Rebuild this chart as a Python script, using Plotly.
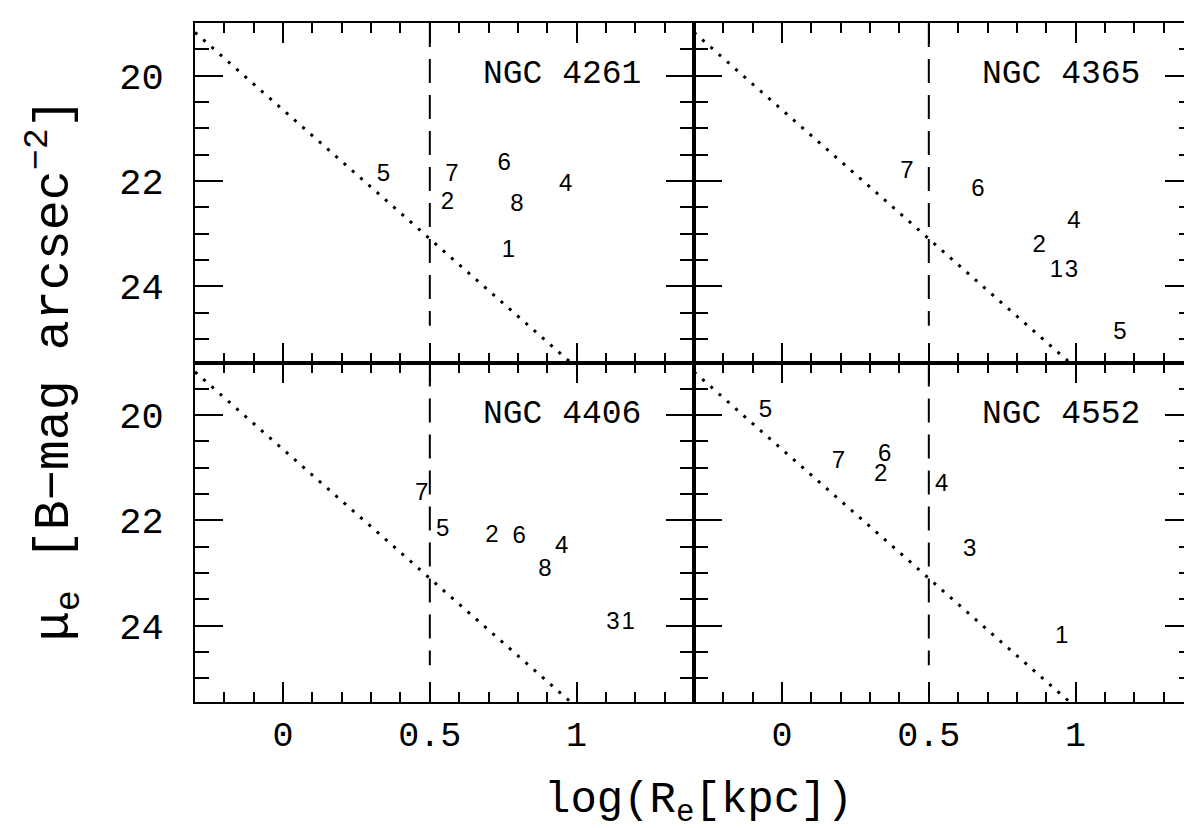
import plotly.graph_objects as go
from plotly.subplots import make_subplots

# ---- data ----
galaxies = ["NGC 4261", "NGC 4365", "NGC 4406", "NGC 4552"]

n4261_lbl = ["5", "7", "6", "4", "2", "8", "1"]
n4261_x = [0.342, 0.575, 0.753, 0.963, 0.560, 0.797, 0.768]
n4261_y = [21.88, 21.88, 21.68, 22.07, 22.42, 22.45, 23.34]

n4365_lbl = ["7", "6", "4", "2", "1", "3", "5"]
n4365_x = [0.425, 0.667, 0.994, 0.876, 0.935, 0.986, 1.151]
n4365_y = [21.83, 22.18, 22.79, 23.23, 23.71, 23.72, 24.88]

n4406_lbl = ["7", "5", "2", "6", "4", "8", "3", "1"]
n4406_x = [0.472, 0.544, 0.712, 0.804, 0.949, 0.892, 1.124, 1.176]
n4406_y = [21.50, 22.18, 22.30, 22.31, 22.51, 22.95, 23.95, 23.95]

n4552_lbl = ["5", "7", "6", "2", "4", "3", "1"]
n4552_x = [-0.057, 0.192, 0.350, 0.336, 0.544, 0.639, 0.953]
n4552_y = [19.92, 20.89, 20.76, 21.13, 21.33, 22.57, 24.21]

# reference lines
limit_x = [-0.3, 1.0]          # dotted diagonal
limit_y = [19.18, 25.55]
cut_x = [0.5, 0.5]             # dashed vertical
cut_y = [19.0, 24.75]

x_range = [-0.3, 1.4]
y_range = [25.45, 19.0]

panels = [
    (n4261_lbl, n4261_x, n4261_y, 1, 1),
    (n4365_lbl, n4365_x, n4365_y, 1, 2),
    (n4406_lbl, n4406_x, n4406_y, 2, 1),
    (n4552_lbl, n4552_x, n4552_y, 2, 2),
]

fig = make_subplots(rows=2, cols=2, horizontal_spacing=0, vertical_spacing=0)

SERIF = "Liberation Mono"

for i, (lbl, xs, ys, r, c) in enumerate(panels):
    fig.add_trace(go.Scatter(x=limit_x, y=limit_y, mode="lines",
                             line=dict(color="black", width=3, dash="3px,8px"),
                             showlegend=False, hoverinfo="skip"), row=r, col=c)
    fig.add_trace(go.Scatter(x=cut_x, y=cut_y, mode="lines",
                             line=dict(color="black", width=2, dash="24px,12px"),
                             showlegend=False, hoverinfo="skip"), row=r, col=c)
    fig.add_trace(go.Scatter(x=xs, y=ys, mode="text", text=lbl,
                             textposition="middle center",
                             textfont=dict(family="Liberation Sans", size=24, color="black"),
                             showlegend=False), row=r, col=c)
    idx = "" if i == 0 else str(i + 1)
    fig.add_annotation(x=0.95, y=19.98, xref="x" + idx, yref="y" + idx,
                       text=galaxies[i], showarrow=False,
                       xanchor="center", yanchor="middle",
                       font=dict(family=SERIF, size=33, color="black"))

    fig.update_xaxes(range=x_range, tick0=0, dtick=0.5, ticks="inside",
                     ticklen=20, tickwidth=2, tickcolor="black",
                     minor=dict(dtick=0.1, tick0=0, ticks="inside", ticklen=10,
                                tickwidth=2, tickcolor="black", showgrid=False),
                     mirror="ticks", showline=True, linewidth=2, linecolor="black",
                     showgrid=False, zeroline=False,
                     showticklabels=(r == 2), ticklabelstandoff=0,
                     tickfont=dict(family=SERIF, size=35, color="black"),
                     row=r, col=c)
    fig.update_yaxes(range=y_range, tick0=20, dtick=2, ticks="inside",
                     ticklen=28, tickwidth=2, tickcolor="black",
                     minor=dict(dtick=0.5, tick0=20, ticks="inside", ticklen=14,
                                tickwidth=2, tickcolor="black", showgrid=False),
                     mirror="ticks", showline=True, linewidth=2, linecolor="black",
                     showgrid=False, zeroline=False,
                     showticklabels=(c == 1), ticklabelstandoff=22,
                     tickfont=dict(family=SERIF, size=37, color="black"),
                     row=r, col=c)

fig.add_annotation(x=-0.141, y=0.489, xref="paper", yref="paper",
                   text="μ<sub>e</sub> [B−mag arcsec<sup>−2</sup>]", textangle=-90,
                   showarrow=False, xanchor="center", yanchor="middle",
                   font=dict(family=SERIF, size=50, color="black"))
fig.add_annotation(x=0.5045, y=-0.148, xref="paper", yref="paper",
                   text="log(R<sub>e</sub>[kpc])", showarrow=False,
                   xanchor="center", yanchor="middle",
                   font=dict(family=SERIF, size=44, color="black"))

fig.update_layout(width=1192, height=828,
                  margin=dict(l=187, r=5, t=15, b=134),
                  paper_bgcolor="white", plot_bgcolor="white",
                  showlegend=False)

fig.write_html("out.html")
